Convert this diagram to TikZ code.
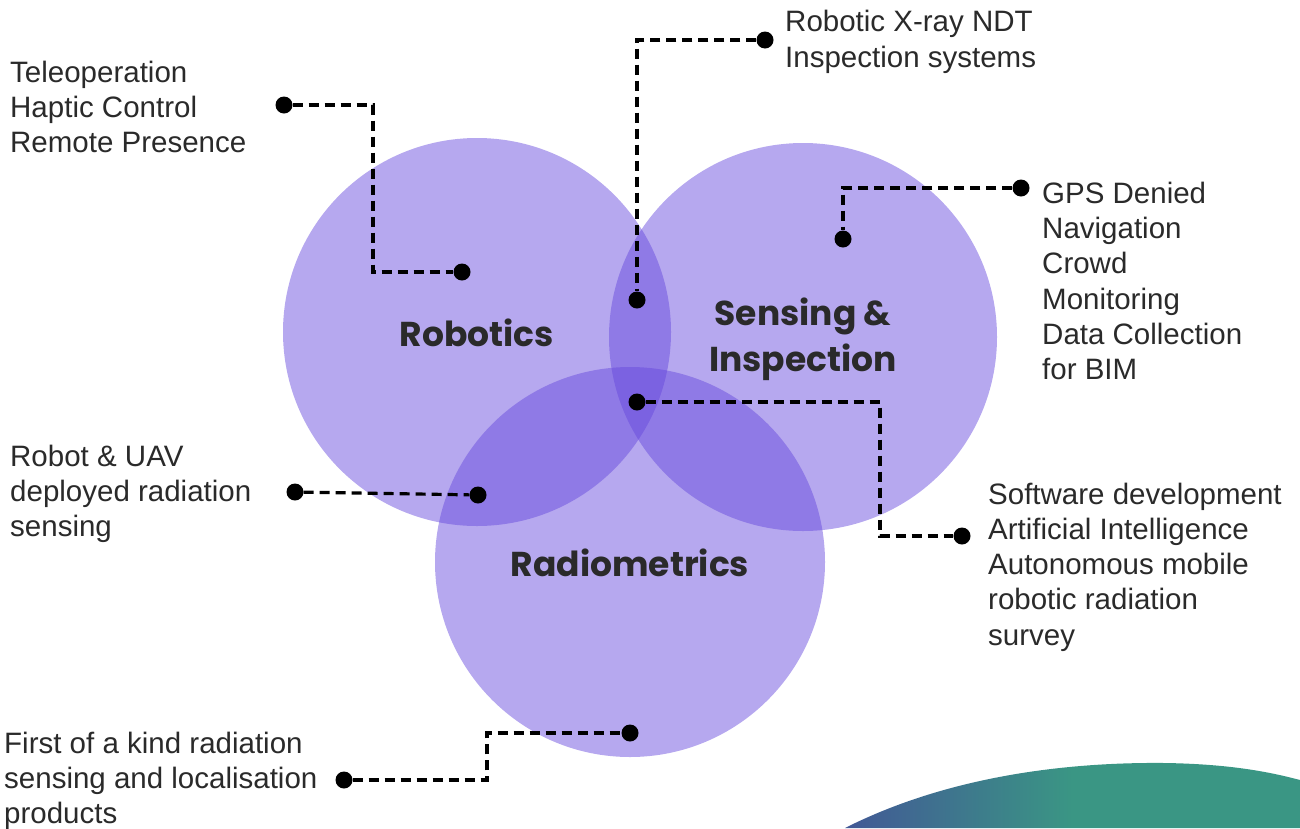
\documentclass[tikz,border=0pt]{standalone}
\usepackage{fontspec}
\setmainfont{Liberation Sans}
\newfontfamily\headfont{Poppins}
\usetikzlibrary{positioning}
\definecolor{circ}{RGB}{100,70,220}
\definecolor{txt}{RGB}{42,42,42}
\definecolor{gblue}{RGB}{66,88,150}
\definecolor{gteal}{RGB}{58,150,132}
\tikzset{
  venn/.style={fill=circ, fill opacity=0.47, draw=none},
  dot/.style={circle, fill=black, minimum size=17pt, inner sep=0pt},
  conn/.style={draw=black, line width=3.2pt, dash pattern=on 10pt off 6pt},
  lbl/.style={anchor=west, align=left, inner sep=0pt, text=txt, font=\fontsize{29.5}{35.3}\selectfont},
  head/.style={align=center, inner sep=0pt, text=txt, font=\headfont\bfseries\fontsize{34.5}{46}\selectfont}
}
\begin{document}
\begin{tikzpicture}[x=1pt,y=-1pt]
\useasboundingbox (0,0) rectangle (1300,828);
% green shape bottom right
\shade[left color=gblue, right color=gteal, middle color=gteal]
  (845,828) .. controls (950,775) and (1070,762) .. (1165,763)
  .. controls (1230,764) and (1270,772) .. (1300,780) -- (1300,828) -- cycle;
% circles
\fill[venn] (477,332) circle[radius=194pt];
\fill[venn] (803,337) circle[radius=194pt];
\fill[venn] (630,562) circle[radius=195pt];
% headings
\node[head] (hr) at (477,333) {Robotics};
\node[head] (hs) at (803,339) {Sensing \&\\Inspection};
\node[head] (hd) at (630,563) {Radiometrics};
% labels
\node[lbl] (t1) at (10,107) {Teleoperation\\Haptic Control\\Remote Presence};
\node[lbl] (t2) at (785,42) {Robotic X-ray NDT\\Inspection systems};
\node[lbl] (t3) at (1042,281) {GPS Denied\\Navigation\\Crowd\\Monitoring\\Data Collection\\for BIM};
\node[lbl] (t4) at (988,567) {Software development\\Artificial Intelligence\\Autonomous mobile\\robotic radiation\\survey};
\node[lbl] (t5) at (10,494) {Robot \& UAV\\deployed radiation\\sensing};
\node[lbl] (t6) at (4,781) {First of a kind radiation\\sensing and localisation\\products};
% dots
\node[dot] (a1) at (284,105) {};
\node[dot] (a2) at (462,272) {};
\node[dot] (b1) at (765,40) {};
\node[dot] (b2) at (637,300) {};
\node[dot] (c1) at (1021,188) {};
\node[dot] (c2) at (843,239) {};
\node[dot] (d1) at (637,402) {};
\node[dot] (d2) at (962,536) {};
\node[dot] (e1) at (295,492) {};
\node[dot] (e2) at (478,495) {};
\node[dot] (f1) at (344,780) {};
\node[dot] (f2) at (630,733) {};
% connectors
\draw[conn] (a1) -| (373,188) |- (a2);
\draw[conn] (b1) -| (b2);
\draw[conn] (c1) -| (c2);
\draw[conn] (d1) -| (880,470) |- (d2);
\draw[conn] (e1) -- (e2);
\draw[conn] (f1) -| (487,756) |- (f2);
\end{tikzpicture}
\end{document}
